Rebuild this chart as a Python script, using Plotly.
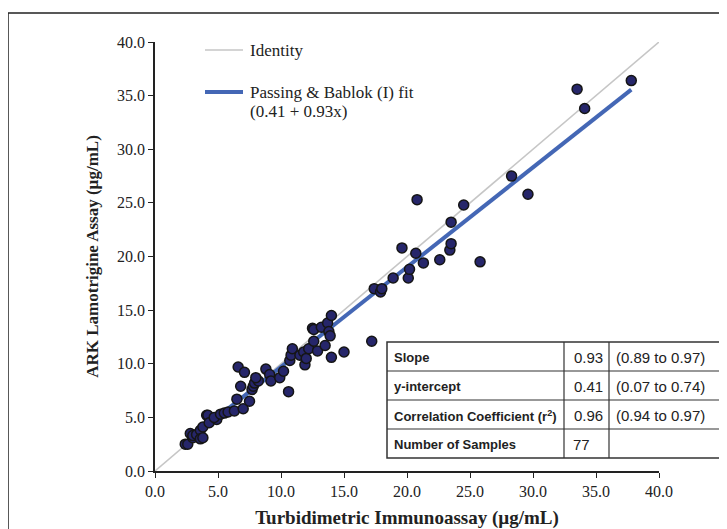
import plotly.graph_objects as go

# Data
turbidimetric = [2.4, 2.6, 2.8, 3.0, 3.0, 3.3, 3.6, 3.6, 3.8, 3.8, 4.1, 4.2, 4.3, 4.9, 4.7,
                 5.2, 5.5, 5.8, 6.3, 6.5, 7.0, 7.5, 6.6, 7.1, 6.8, 7.7, 7.8, 7.9, 8.2, 8.0,
                 8.8, 9.1, 9.2, 9.9, 10.2, 10.6, 10.7, 10.8, 10.9, 11.5, 11.8, 11.9, 12.0,
                 12.2, 12.6, 12.9, 12.5, 12.6, 13.2, 13.7, 14.0, 13.8, 13.9, 13.5, 14.0,
                 15.0, 17.2, 17.4, 17.9, 18.0, 18.9, 20.1, 20.2, 19.6, 20.7, 21.3, 22.6,
                 23.4, 23.5, 23.5, 24.5, 20.8, 25.8, 28.3, 29.6, 33.5, 34.1, 37.8]
ark = [2.5, 2.5, 3.5, 3.1, 3.3, 3.4, 3.8, 3.0, 3.1, 4.1, 5.2, 5.2, 4.5, 4.8, 5.0,
       5.3, 5.4, 5.5, 5.6, 6.7, 5.8, 6.5, 9.7, 9.2, 7.9, 7.6, 7.9, 8.2, 8.4, 8.7,
       9.5, 9.0, 8.4, 8.7, 9.3, 7.4, 10.3, 10.8, 11.4, 10.8, 11.1, 9.9, 10.5,
       11.4, 12.1, 11.2, 13.3, 13.2, 13.4, 13.8, 14.5, 13.0, 12.6, 11.7, 10.6,
       11.1, 12.1, 17.0, 16.7, 17.0, 18.0, 18.0, 18.8, 20.8, 20.3, 19.4, 19.7,
       20.6, 21.2, 23.2, 24.8, 25.3, 19.5, 27.5, 25.8, 35.6, 33.8, 36.4]

intercept = 0.41
slope = 0.93
fit_x = [min(turbidimetric), max(turbidimetric)]
fit_y = [intercept + slope * v for v in fit_x]
identity_xy = [0, 40]

tick_vals = [0, 5, 10, 15, 20, 25, 30, 35, 40]
tick_text = ["0.0", "5.0", "10.0", "15.0", "20.0", "25.0", "30.0", "35.0", "40.0"]

table_labels = ["Slope", "y-intercept", "Correlation Coefficient (r<sup>2</sup>)", "Number of Samples"]
table_values = ["0.93", "0.41", "0.96", "77"]
table_ci = ["(0.89 to 0.97)", "(0.07 to 0.74)", "(0.94 to 0.97)", ""]

W, H = 727, 529
OFF = 8  # page body margin
L, R, T, B = 155, 659, 42, 471  # plot area in screen pixels


def px(x):
    return (x - L) / (R - L)


def py(y):
    return (B - y) / (B - T)


SERIF = "Liberation Serif, Times New Roman, serif"
SANS = "Liberation Sans, Arial, sans-serif"

fig = go.Figure()
fig.add_trace(go.Scatter(x=identity_xy, y=identity_xy, mode="lines",
                         line=dict(color="#c6c6c6", width=1.6), showlegend=False,
                         hoverinfo="skip"))
fig.add_trace(go.Scatter(x=fit_x, y=fit_y, mode="lines",
                         line=dict(color="#4467b5", width=4), showlegend=False))
fig.add_trace(go.Scatter(x=turbidimetric, y=ark, mode="markers",
                         marker=dict(size=10, color="#26266a",
                                     line=dict(color="#151515", width=1.5)),
                         showlegend=False))

shapes = []
annotations = []

# outer frame
shapes.append(dict(type="rect", xref="paper", yref="paper",
                   x0=px(8), x1=px(760), y0=py(560), y1=py(13),
                   line=dict(color="#222", width=1.5), layer="below"))

# legend
shapes.append(dict(type="line", xref="paper", yref="paper",
                   x0=px(205), x1=px(243), y0=py(50), y1=py(50),
                   line=dict(color="#c6c6c6", width=1.6)))
shapes.append(dict(type="line", xref="paper", yref="paper",
                   x0=px(205), x1=px(243), y0=py(92), y1=py(92),
                   line=dict(color="#4467b5", width=4)))
legend_font = dict(family=SERIF, size=17, color="#222")
annotations.append(dict(xref="paper", yref="paper", x=px(248), y=py(50), text="Identity",
                        showarrow=False, xanchor="left", yanchor="middle", font=legend_font))
annotations.append(dict(xref="paper", yref="paper", x=px(248), y=py(92),
                        text="Passing &amp; Bablok (I) fit", showarrow=False,
                        xanchor="left", yanchor="middle", font=legend_font))
annotations.append(dict(xref="paper", yref="paper", x=px(248), y=py(111),
                        text="(0.41 + 0.93x)", showarrow=False,
                        xanchor="left", yanchor="middle", font=legend_font))

# table
tx0, tx1, tx2, tx3 = 387, 564, 609, 721
rows = [342, 371, 400, 429, 458]
shapes.append(dict(type="rect", xref="paper", yref="paper",
                   x0=px(tx0), x1=px(tx3), y0=py(rows[-1]), y1=py(rows[0]),
                   fillcolor="white", line=dict(color="#333", width=1.5)))
for r in rows[1:-1]:
    shapes.append(dict(type="line", xref="paper", yref="paper",
                       x0=px(tx0), x1=px(tx3), y0=py(r), y1=py(r),
                       line=dict(color="#333", width=1.2)))
for c in (tx1, tx2):
    shapes.append(dict(type="line", xref="paper", yref="paper",
                       x0=px(c), x1=px(c), y0=py(rows[-1]), y1=py(rows[0]),
                       line=dict(color="#333", width=1.2)))
tfont_b = dict(family=SANS, size=13, color="#222")
tfont = dict(family=SANS, size=15, color="#222")
for i in range(4):
    yc = (rows[i] + rows[i + 1]) / 2 + 1
    annotations.append(dict(xref="paper", yref="paper", x=px(tx0 + 5), y=py(yc),
                            text="<b>" + table_labels[i] + "</b>", showarrow=False,
                            xanchor="left", yanchor="middle", font=tfont_b))
    annotations.append(dict(xref="paper", yref="paper", x=px(tx2 - 4) if i < 3 else px(tx1 + 7),
                            y=py(yc), text=table_values[i], showarrow=False,
                            xanchor="right" if i < 3 else "left", yanchor="middle", font=tfont))
    if table_ci[i]:
        annotations.append(dict(xref="paper", yref="paper", x=px(tx2 + 5), y=py(yc),
                                text=table_ci[i], showarrow=False,
                                xanchor="left", yanchor="middle", font=tfont))

axis_common = dict(range=[0, 40], tickvals=tick_vals, ticktext=tick_text,
                   showgrid=False, zeroline=False, showline=True, linecolor="#222",
                   linewidth=1.5, ticks="outside", ticklen=5, tickcolor="#222", tickwidth=1.2,
                   tickfont=dict(family=SERIF, size=16, color="#222"))

fig.update_layout(
    width=W, height=H,
    margin=dict(l=L - OFF, r=W - (R - OFF), t=T - OFF, b=H - (B - OFF)),
    plot_bgcolor="white", paper_bgcolor="white",
    xaxis=dict(axis_common,
               title=dict(text="<b>Turbidimetric Immunoassay (µg/mL)</b>", standoff=12,
                          font=dict(family=SERIF, size=19, color="#222"))),
    yaxis=dict(axis_common,
               title=dict(text="<b>ARK Lamotrigine Assay (µg/mL)</b>", standoff=14,
                          font=dict(family=SERIF, size=17, color="#222"))),
    shapes=shapes,
    annotations=annotations,
    showlegend=False,
)

fig.write_html("out.html")
